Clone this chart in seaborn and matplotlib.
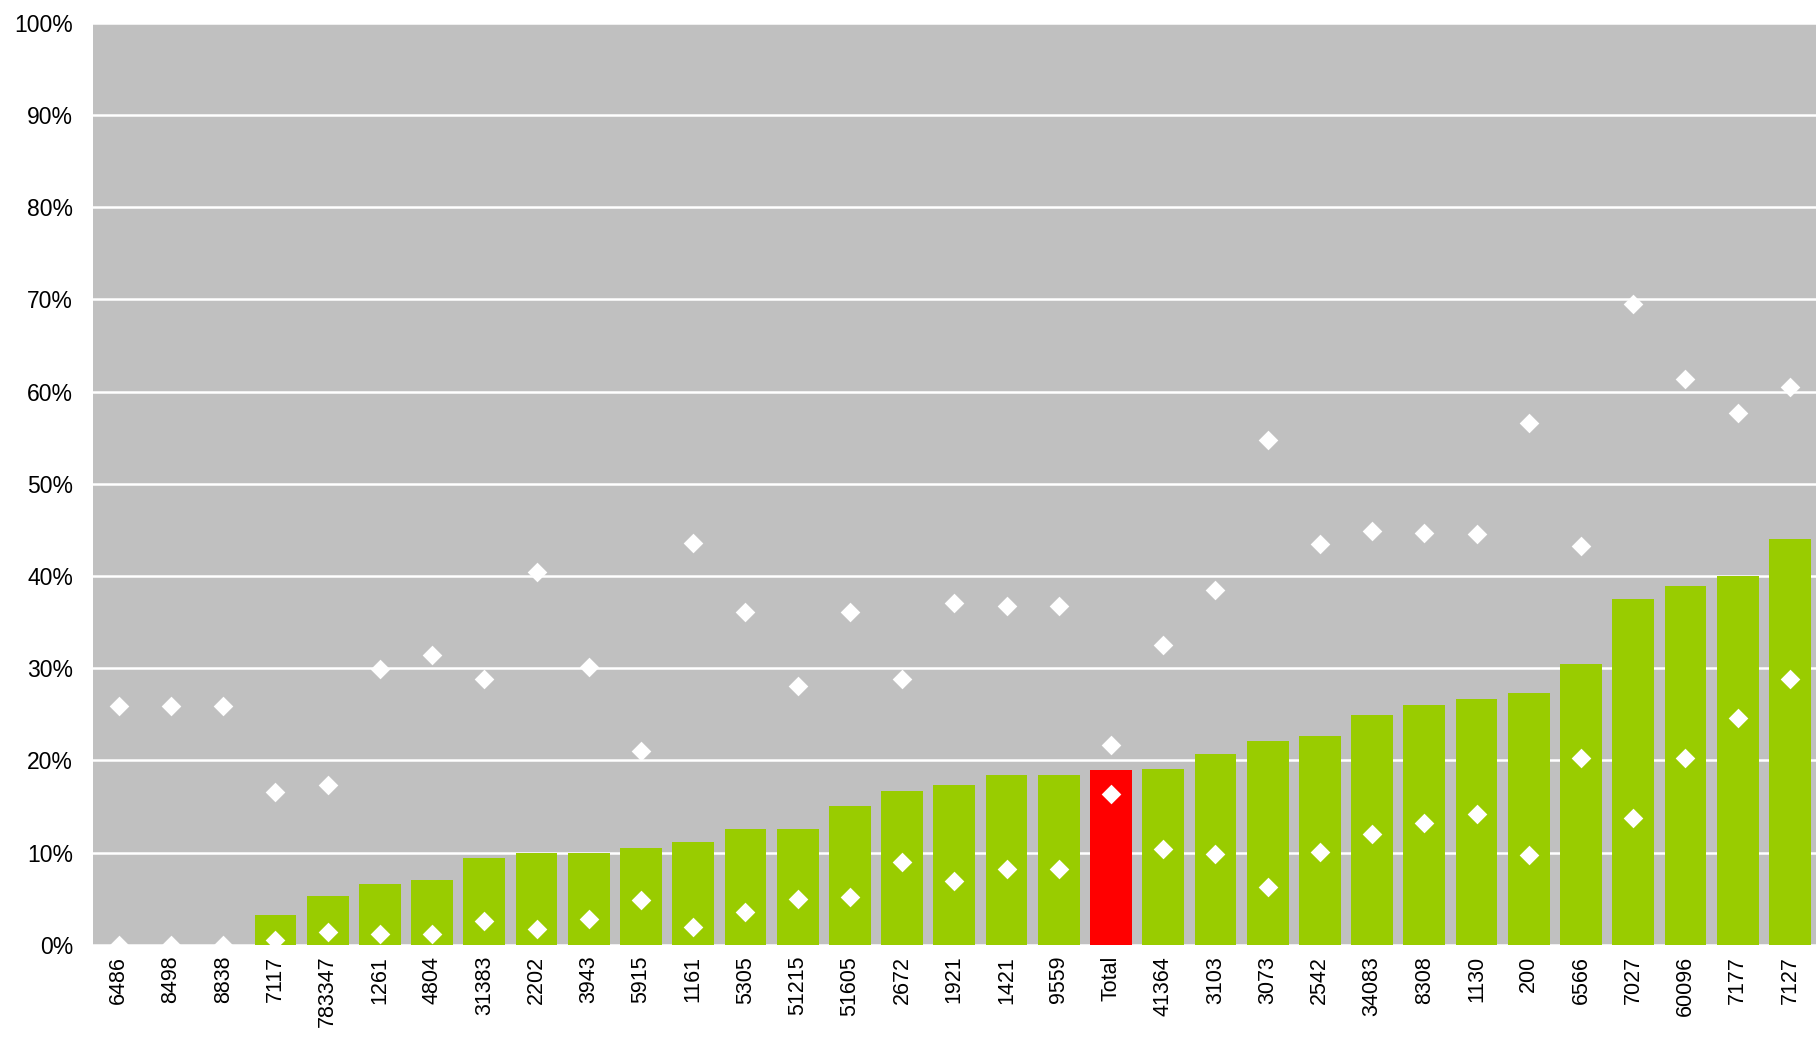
import seaborn as sns
import matplotlib.pyplot as plt
import pandas as pd
from matplotlib.ticker import PercentFormatter, MultipleLocator

# categories along the x axis
categories = ['6486', '8498', '8838', '7117', '783347', '1261', '4804', '31383', '2202',
              '3943', '5915', '1161', '5305', '51215', '51605', '2672', '1921', '1421',
              '9559', 'Total', '41364', '3103', '3073', '2542', '34083', '8308', '1130',
              '200', '6566', '7027', '60096', '7177', '7127']

# bar heights (%)
bar_values = [0, 0, 0, 3.2, 5.3, 6.6, 7.0, 9.4, 9.95, 9.95, 10.5, 11.1, 12.5, 12.5,
              15.0, 16.7, 17.35, 18.45, 18.45, 18.9, 19.1, 20.7, 22.15, 22.65, 24.95,
              25.95, 26.65, 27.3, 30.45, 37.55, 38.9, 40.0, 44.05]

# lower diamonds (%)
low_values = [0, 0, 0, 0.5, 1.4, 1.15, 1.15, 2.6, 1.75, 2.75, 4.85, 1.95, 3.5, 4.95,
              5.2, 9.0, 6.95, 8.2, 8.2, 16.3, 10.35, 9.85, 6.3, 10.1, 12.0, 13.15,
              14.2, 9.75, 20.25, 13.7, 20.3, 24.55, 28.85]

# upper diamonds (%)
high_values = [25.85, 25.85, 25.85, 16.55, 17.3, 29.9, 31.4, 28.85, 40.45, 30.1, 21.05,
               43.55, 36.05, 28.1, 36.05, 28.8, 37.1, 36.7, 36.7, 21.7, 32.5, 38.45,
               54.75, 43.45, 44.85, 44.65, 44.5, 56.6, 43.25, 69.45, 61.4, 57.7, 60.55]

df = pd.DataFrame({'cat': categories, 'bar': bar_values,
                   'low': low_values, 'high': high_values})

palette = {c: ('#FF0000' if c == 'Total' else '#99CC00') for c in categories}

plt.rcParams['font.family'] = ['Liberation Sans', 'DejaVu Sans']

fig = plt.figure(figsize=(18.16, 10.37), dpi=100)
ax = fig.add_axes([0.051, 0.089, 0.949, 0.889])
ax.set_facecolor('#C0C0C0')

sns.barplot(data=df, x='cat', y='bar', hue='cat', palette=palette, order=categories,
            hue_order=categories, legend=False, saturation=1, width=0.8, ax=ax, zorder=2)
for col in ['low', 'high']:
    sns.stripplot(data=df, x='cat', y=col, order=categories, jitter=False, marker='D',
                  color='white', size=10, linewidth=0, ax=ax, zorder=3)

ax.set_ylim(0, 100)
ax.set_xlim(-0.5, len(categories) - 0.5)
ax.yaxis.set_major_locator(MultipleLocator(10))
ax.yaxis.set_major_formatter(PercentFormatter(100, decimals=0))
ax.set_axisbelow(True)
ax.yaxis.grid(True, color='white', linewidth=1.8, zorder=1)
ax.xaxis.grid(False)
for s in ax.spines.values():
    s.set_visible(False)
ax.tick_params(axis='y', length=0, pad=14, labelsize=16.5)
ax.tick_params(axis='x', length=0, pad=8, labelsize=15.5, labelrotation=90)
ax.set_xlabel('')
ax.set_ylabel('')

plt.savefig('out.png', dpi=100)
